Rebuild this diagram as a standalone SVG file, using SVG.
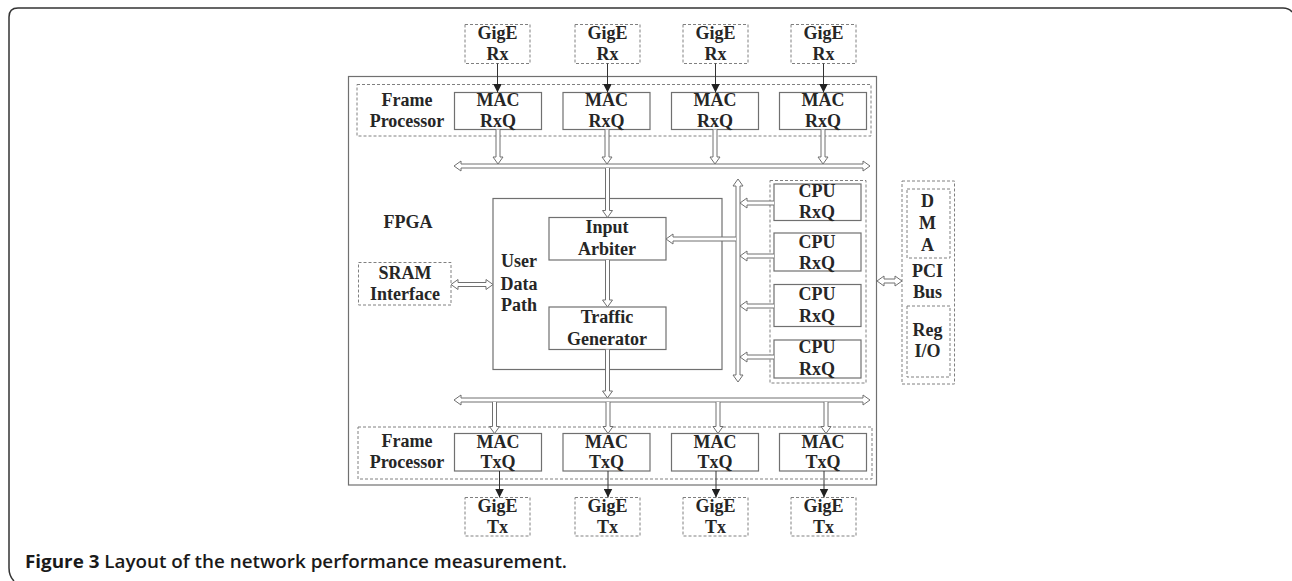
<svg xmlns="http://www.w3.org/2000/svg" width="1292" height="581" viewBox="0 0 1292 581">
<style>
.t{font-family:"Liberation Serif","Times New Roman",serif;font-weight:bold;font-size:18px;fill:#262626;text-anchor:middle}
.box{fill:#fff;stroke:#707070;stroke-width:1.2}
.dash{fill:none;stroke:#808080;stroke-width:1;stroke-dasharray:3,2}
.hol{fill:#fff;stroke:#707070;stroke-width:1}
.thin{stroke:#333;stroke-width:1;fill:none}
.cap{font-family:"Open Sans","Liberation Sans",sans-serif;font-size:18.5px;fill:#1a1a1a}
</style>
<defs>
<marker id="ah" viewBox="0 0 10 10" refX="10" refY="5" markerWidth="9" markerHeight="9" markerUnits="userSpaceOnUse" orient="auto">
<path d="M0,0 L10,5 L0,10 z" fill="#222"/>
</marker>
</defs>
<rect width="1292" height="581" fill="#fff"/>
<path d="M14,581 Q9,576 9,568 L9,17 Q9,8 18,8 L1283,8 Q1289,8 1292,12" fill="none" stroke="#333" stroke-width="1.5"/>

<g id="fpga">
<rect x="348.5" y="76.5" width="528" height="408.5" class="box"/>
<text x="408" y="228" class="t">FPGA</text>
</g>

<g id="frame-processor-rx">
<rect x="357" y="84.5" width="514" height="51.5" class="dash"/>
<text x="407" y="106" class="t">Frame</text>
<text x="407" y="127" class="t">Processor</text>
</g>
<g id="frame-processor-tx">
<rect x="358" y="427" width="514" height="52" class="dash"/>
<text x="407" y="447" class="t">Frame</text>
<text x="407" y="468" class="t">Processor</text>
</g>

<g id="gige-rx-1"><rect x="465" y="24.5" width="65" height="39" class="dash"/><text x="497.5" y="39" class="t">GigE</text><text x="497.5" y="60" class="t">Rx</text></g>
<g id="gige-rx-2"><rect x="575" y="24.5" width="65" height="39" class="dash"/><text x="607.5" y="39" class="t">GigE</text><text x="607.5" y="60" class="t">Rx</text></g>
<g id="gige-rx-3"><rect x="683" y="24.5" width="65" height="39" class="dash"/><text x="715.5" y="39" class="t">GigE</text><text x="715.5" y="60" class="t">Rx</text></g>
<g id="gige-rx-4"><rect x="791" y="24.5" width="65" height="39" class="dash"/><text x="823.5" y="39" class="t">GigE</text><text x="823.5" y="60" class="t">Rx</text></g>

<g id="mac-rxq-1"><rect x="454.5" y="92.5" width="87" height="37" class="box"/><text x="498" y="106" class="t">MAC</text><text x="498" y="126.5" class="t">RxQ</text></g>
<g id="mac-rxq-2"><rect x="563" y="92.5" width="87" height="37" class="box"/><text x="606.5" y="106" class="t">MAC</text><text x="606.5" y="126.5" class="t">RxQ</text></g>
<g id="mac-rxq-3"><rect x="671.5" y="92.5" width="87" height="37" class="box"/><text x="715" y="106" class="t">MAC</text><text x="715" y="126.5" class="t">RxQ</text></g>
<g id="mac-rxq-4"><rect x="779.5" y="92.5" width="87" height="37" class="box"/><text x="823" y="106" class="t">MAC</text><text x="823" y="126.5" class="t">RxQ</text></g>

<g id="mac-txq-1"><rect x="454.5" y="433.5" width="87" height="37.5" class="box"/><text x="498" y="447.5" class="t">MAC</text><text x="498" y="468" class="t">TxQ</text></g>
<g id="mac-txq-2"><rect x="563" y="433.5" width="87" height="37.5" class="box"/><text x="606.5" y="447.5" class="t">MAC</text><text x="606.5" y="468" class="t">TxQ</text></g>
<g id="mac-txq-3"><rect x="671.5" y="433.5" width="87" height="37.5" class="box"/><text x="715" y="447.5" class="t">MAC</text><text x="715" y="468" class="t">TxQ</text></g>
<g id="mac-txq-4"><rect x="779.5" y="433.5" width="87" height="37.5" class="box"/><text x="823" y="447.5" class="t">MAC</text><text x="823" y="468" class="t">TxQ</text></g>

<g id="gige-tx-1"><rect x="465" y="497.5" width="65" height="38.5" class="dash"/><text x="497.5" y="512" class="t">GigE</text><text x="497.5" y="533" class="t">Tx</text></g>
<g id="gige-tx-2"><rect x="575" y="497.5" width="65" height="38.5" class="dash"/><text x="607.5" y="512" class="t">GigE</text><text x="607.5" y="533" class="t">Tx</text></g>
<g id="gige-tx-3"><rect x="683" y="497.5" width="65" height="38.5" class="dash"/><text x="715.5" y="512" class="t">GigE</text><text x="715.5" y="533" class="t">Tx</text></g>
<g id="gige-tx-4"><rect x="791" y="497.5" width="65" height="38.5" class="dash"/><text x="823.5" y="512" class="t">GigE</text><text x="823.5" y="533" class="t">Tx</text></g>

<g id="user-data-path">
<rect x="493" y="198.5" width="229" height="171" class="box"/>
<text x="519" y="267" class="t">User</text>
<text x="519" y="290" class="t">Data</text>
<text x="519" y="311" class="t">Path</text>
</g>
<g id="input-arbiter"><rect x="549" y="217.5" width="117" height="42.5" class="box"/><text x="607" y="233" class="t">Input</text><text x="607" y="255" class="t">Arbiter</text></g>
<g id="traffic-generator"><rect x="549" y="307" width="117" height="42.5" class="box"/><text x="607" y="322.5" class="t">Traffic</text><text x="607" y="345" class="t">Generator</text></g>

<g id="sram-interface"><rect x="358.5" y="262.5" width="92.5" height="42.5" class="dash"/><text x="405" y="279" class="t">SRAM</text><text x="405" y="300" class="t">Interface</text></g>

<g id="cpu-rxq">
<rect x="770" y="180.5" width="96" height="202.5" class="dash"/>
<rect x="774" y="184" width="87" height="36.5" class="box"/><text x="817" y="196.5" class="t">CPU</text><text x="817" y="218" class="t">RxQ</text>
<rect x="774" y="233" width="87" height="38" class="box"/><text x="817" y="247.5" class="t">CPU</text><text x="817" y="269" class="t">RxQ</text>
<rect x="774" y="284.5" width="87" height="42" class="box"/><text x="817" y="300" class="t">CPU</text><text x="817" y="321.5" class="t">RxQ</text>
<rect x="774" y="340" width="87" height="38" class="box"/><text x="817" y="353" class="t">CPU</text><text x="817" y="375" class="t">RxQ</text>
</g>

<g id="pci-bus">
<rect x="902" y="181" width="52.5" height="203" class="dash"/>
<rect x="907" y="189" width="43" height="69" class="dash"/>
<rect x="907" y="306" width="43" height="71" class="dash"/>
<text x="927.5" y="207" class="t">D</text>
<text x="927.5" y="229" class="t">M</text>
<text x="927.5" y="250.5" class="t">A</text>
<text x="927.5" y="276.5" class="t">PCI</text>
<text x="927.5" y="298" class="t">Bus</text>
<text x="927.5" y="335.5" class="t">Reg</text>
<text x="927.5" y="356.5" class="t">I/O</text>
</g>

<g id="connectors">
<line x1="497.5" y1="63.5" x2="497.5" y2="92.5" class="thin" marker-end="url(#ah)"/>
<line x1="607.5" y1="63.5" x2="607.5" y2="92.5" class="thin" marker-end="url(#ah)"/>
<line x1="715.5" y1="63.5" x2="715.5" y2="92.5" class="thin" marker-end="url(#ah)"/>
<line x1="823.5" y1="63.5" x2="823.5" y2="92.5" class="thin" marker-end="url(#ah)"/>
<line x1="499.5" y1="471" x2="499.5" y2="497.5" class="thin" marker-end="url(#ah)"/>
<line x1="608" y1="471" x2="608" y2="497.5" class="thin" marker-end="url(#ah)"/>
<line x1="716" y1="471" x2="716" y2="497.5" class="thin" marker-end="url(#ah)"/>
<line x1="824" y1="471" x2="824" y2="497.5" class="thin" marker-end="url(#ah)"/>

<path class="hol" d="M454,166 L461,161 L461,164 L863,164 L863,161 L870,166 L863,171 L863,168 L461,168 L461,171 Z"/>
<path class="hol" d="M454,400 L461,395 L461,398 L863,398 L863,395 L870,400 L863,405 L863,402 L461,402 L461,405 Z"/>

<path class="hol" d="M496,129.5 L496,157 L493,157 L498,164 L503,157 L500,157 L500,129.5"/>
<path class="hol" d="M605,129.5 L605,157 L602,157 L607,164 L612,157 L609,157 L609,129.5"/>
<path class="hol" d="M713,129.5 L713,157 L710,157 L715,164 L720,157 L717,157 L717,129.5"/>
<path class="hol" d="M821,129.5 L821,157 L818,157 L823,164 L828,157 L825,157 L825,129.5"/>

<path class="hol" d="M605.5,168 L605.5,210.5 L602.5,210.5 L607.5,217.5 L612.5,210.5 L609.5,210.5 L609.5,168"/>
<path class="hol" d="M605.5,260 L605.5,300 L602.5,300 L607.5,307 L612.5,300 L609.5,300 L609.5,260"/>
<path class="hol" d="M605.5,349.5 L605.5,391 L602.5,391 L607.5,398 L612.5,391 L609.5,391 L609.5,349.5"/>

<path class="hol" d="M492.5,402 L492.5,426.5 L489.5,426.5 L494.5,433.5 L499.5,426.5 L496.5,426.5 L496.5,402"/>
<path class="hol" d="M606,402 L606,426.5 L603,426.5 L608,433.5 L613,426.5 L610,426.5 L610,402"/>
<path class="hol" d="M716,402 L716,426.5 L713,426.5 L718,433.5 L723,426.5 L720,426.5 L720,402"/>
<path class="hol" d="M824,402 L824,426.5 L821,426.5 L826,433.5 L831,426.5 L828,426.5 L828,402"/>

<path class="hol" d="M738,179 L743,186 L740,186 L740,375 L743,375 L738,382 L733,375 L736,375 L736,186 L733,186 Z"/>
<path class="hol" d="M774,201 L747,201 L747,198 L740,203 L747,208 L747,205 L774,205"/>
<path class="hol" d="M774,254 L747,254 L747,251 L740,256 L747,261 L747,258 L774,258"/>
<path class="hol" d="M774,304 L747,304 L747,301 L740,306 L747,311 L747,308 L774,308"/>
<path class="hol" d="M774,355 L747,355 L747,352 L740,357 L747,362 L747,359 L774,359"/>
<path class="hol" d="M736,237 L673,237 L673,234 L666,239 L673,244 L673,241 L736,241"/>

<path class="hol" d="M451,284.5 L458,279.5 L458,282.5 L486,282.5 L486,279.5 L493,284.5 L486,289.5 L486,286.5 L458,286.5 L458,289.5 Z"/>
<path class="hol" d="M877,281 L884,276 L884,279 L895,279 L895,276 L902,281 L895,286 L895,283 L884,283 L884,286 Z"/>
</g>

<text x="25" y="568" class="cap" font-weight="bold" textLength="542" lengthAdjust="spacingAndGlyphs"><tspan>Figure 3</tspan><tspan font-weight="600"> Layout of the network performance measurement.</tspan></text>
</svg>
